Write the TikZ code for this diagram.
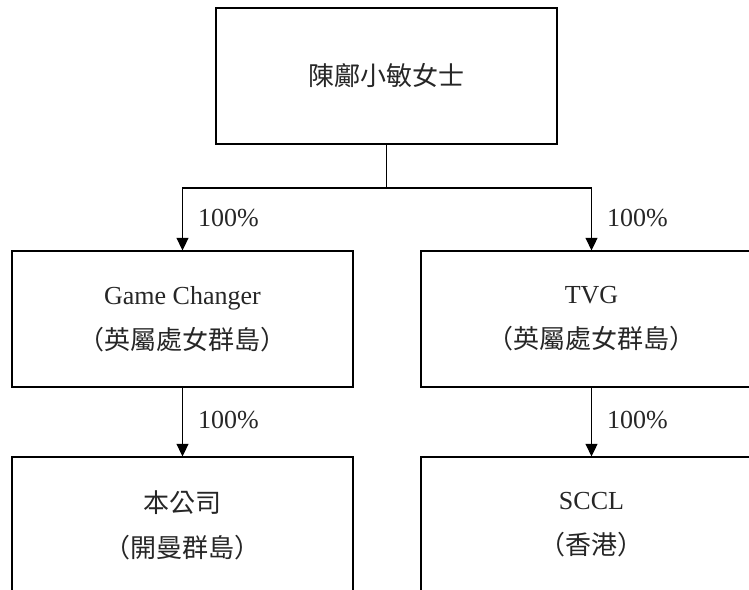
\documentclass[tikz,border=0pt]{standalone}
\usepackage{fontspec}
\setmainfont{Liberation Serif}
\newfontfamily\cjk{Noto Sans CJK TC}
\newfontfamily\cjkh[RawFeature=+halt]{Noto Sans CJK TC}
\usetikzlibrary{arrows.meta}
\newcommand{\lp}{{\cjkh （}}
\newcommand{\rp}{{\cjkh ）}}
\begin{document}
\begin{tikzpicture}[x=1pt,y=-1pt,
  box/.style={draw=black, line width=1.3pt, minimum width=341pt, minimum height=136pt,
    align=center, font=\fontsize{26}{45}\selectfont, inner sep=0pt, text=black!85},
  conn/.style={draw=black, line width=1.3pt},
  arr/.style={conn, -{Triangle[width=12pt,length=12.5pt]}},
  pct/.style={anchor=west, font=\fontsize{26}{30}\selectfont, inner sep=0pt, text=black!85}]
\useasboundingbox (0,0) rectangle (749,589);
\clip (0,0) rectangle (749,589);
\node[box] (top) at (386.5,76) {\cjk 陳鄺小敏女士};
\node[box] (gc) at (182.5,319) {Game Changer\\\lp{\cjk 英屬處女群島}\rp};
\node[box] (tvg) at (591.5,319) {TVG\\\lp{\cjk 英屬處女群島}\rp};
\node[box] (co) at (182.5,525) {{\cjk 本公司}\\\lp{\cjk 開曼群島}\rp};
\node[box] (sccl) at (591.5,525) {SCCL\\\lp{\cjk 香港}\rp};
\coordinate (j) at (386.5,188);
\draw[conn] (top.south) -- (j);
\draw[arr] (j) -| (gc.north);
\draw[arr] (j) -| (tvg.north);
\draw[arr] (gc.south) -- (co.north);
\draw[arr] (tvg.south) -- (sccl.north);
\node[pct] (p1) at (198,218) {100\%};
\node[pct] (p2) at (607,218) {100\%};
\node[pct] (p3) at (198,420) {100\%};
\node[pct] (p4) at (607,420) {100\%};
\end{tikzpicture}
\end{document}
